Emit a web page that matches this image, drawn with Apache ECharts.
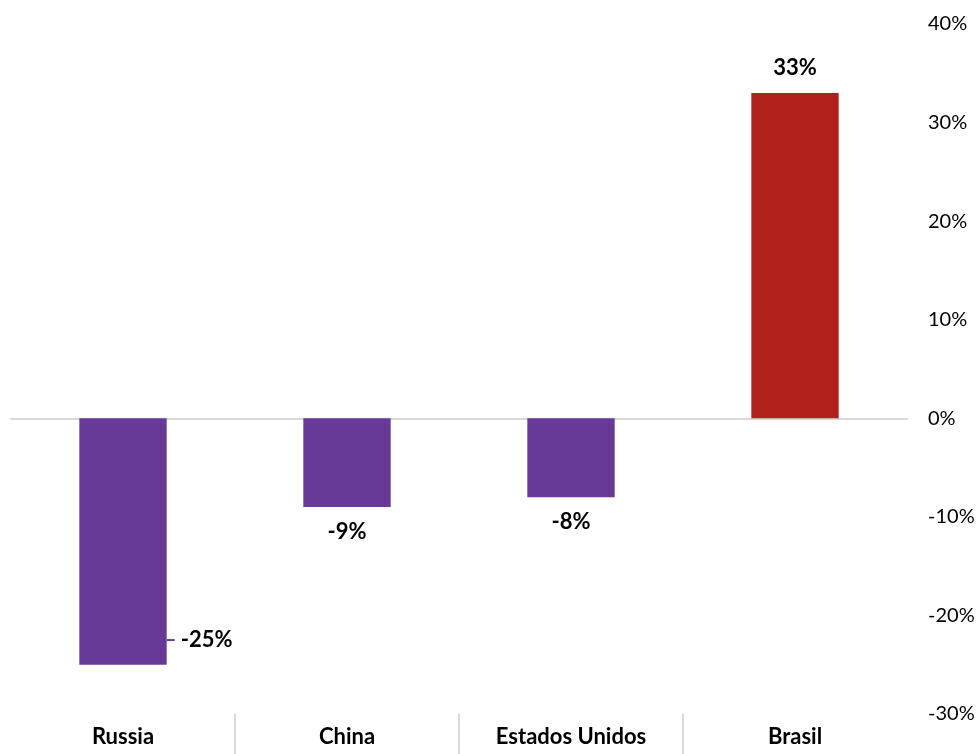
<!DOCTYPE html>
<html>
<head>
<meta charset="utf-8">
<style>
  html, body { margin: 0; padding: 0; background: #fff; }
  #chart { width: 978px; height: 754px; }
</style>
<script src="https://cdn.jsdelivr.net/npm/echarts@6/dist/echarts.min.js"></script>
</head>
<body>
<div id="chart"></div>
<script>
// Variation by country (%)
const categories = ['Russia', 'China', 'Estados Unidos', 'Brasil'];
const values = [-25, -9, -8, 33];
const yTicks = { min: -30, max: 40, step: 10 };

const PURPLE = '#673A97';
const RED = '#B0221C';
const GRAYLINE = '#D9D9D9';
const LABEL_FONT = 'Lato, "Open Sans", sans-serif';

const barData = values.map(function (v, i) {
  const item = {
    value: v,
    itemStyle: { color: v >= 0 ? RED : PURPLE },
    label: { position: v >= 0 ? 'top' : 'bottom' }
  };
  // the first bar carries its label beside it, with a short leader
  if (i === 0) {
    item.label = {
      position: ['100%', '90%'],
      verticalAlign: 'middle',
      align: 'left',
      formatter: '{lead|}{gap|}{v|' + v + '%}',
      rich: {
        lead: { width: 8, height: 2, backgroundColor: PURPLE },
        gap: { width: 6 },
        v: { fontFamily: LABEL_FONT, fontWeight: 'bold', fontSize: 22, color: '#000' }
      }
    };
  }
  return item;
});

const chart = echarts.init(document.getElementById('chart'), null, { renderer: 'canvas' });
chart.setOption({
  animation: false,
  backgroundColor: '#fff',
  grid: [
    { left: 11, right: 71, top: 24, bottom: 40, containLabel: false },
    { left: 11, right: 71, top: 714, height: 40, containLabel: false }
  ],
  xAxis: [
    {
      // zero line
      type: 'category', gridIndex: 0, data: categories,
      axisLine: { show: true, onZero: true, lineStyle: { color: GRAYLINE, width: 2 } },
      axisTick: { show: false }, axisLabel: { show: false }, splitLine: { show: false }
    },
    {
      // category names along the bottom
      type: 'category', gridIndex: 0, data: categories, position: 'bottom',
      axisLine: { show: false, onZero: false }, axisTick: { show: false },
      axisLabel: { show: true, margin: 12, fontFamily: LABEL_FONT, fontWeight: 'bold', fontSize: 22, color: '#000' },
      splitLine: { show: false }
    },
    {
      // separators between category names
      type: 'category', gridIndex: 1, data: categories,
      axisLine: { show: false }, axisTick: { show: false }, axisLabel: { show: false },
      splitLine: { show: true, lineStyle: { width: 2, color: ['rgba(0,0,0,0)', GRAYLINE, GRAYLINE, GRAYLINE, 'rgba(0,0,0,0)'] } }
    }
  ],
  yAxis: [
    {
      type: 'value', gridIndex: 0, position: 'right',
      min: yTicks.min, max: yTicks.max, interval: yTicks.step,
      axisLine: { show: false }, axisTick: { show: false }, splitLine: { show: false },
      axisLabel: {
        margin: 21, align: 'left', formatter: '{value}%',
        fontFamily: LABEL_FONT, fontSize: 20, color: '#000'
      }
    },
    { type: 'value', gridIndex: 1, show: false }
  ],
  series: [
    {
      type: 'bar', xAxisIndex: 0, yAxisIndex: 0,
      barWidth: '39%',
      data: barData,
      label: {
        show: true, distance: 14, formatter: '{c}%',
        fontFamily: LABEL_FONT, fontWeight: 'bold', fontSize: 22, color: '#000'
      }
    }
  ]
});
</script>
</body>
</html>
